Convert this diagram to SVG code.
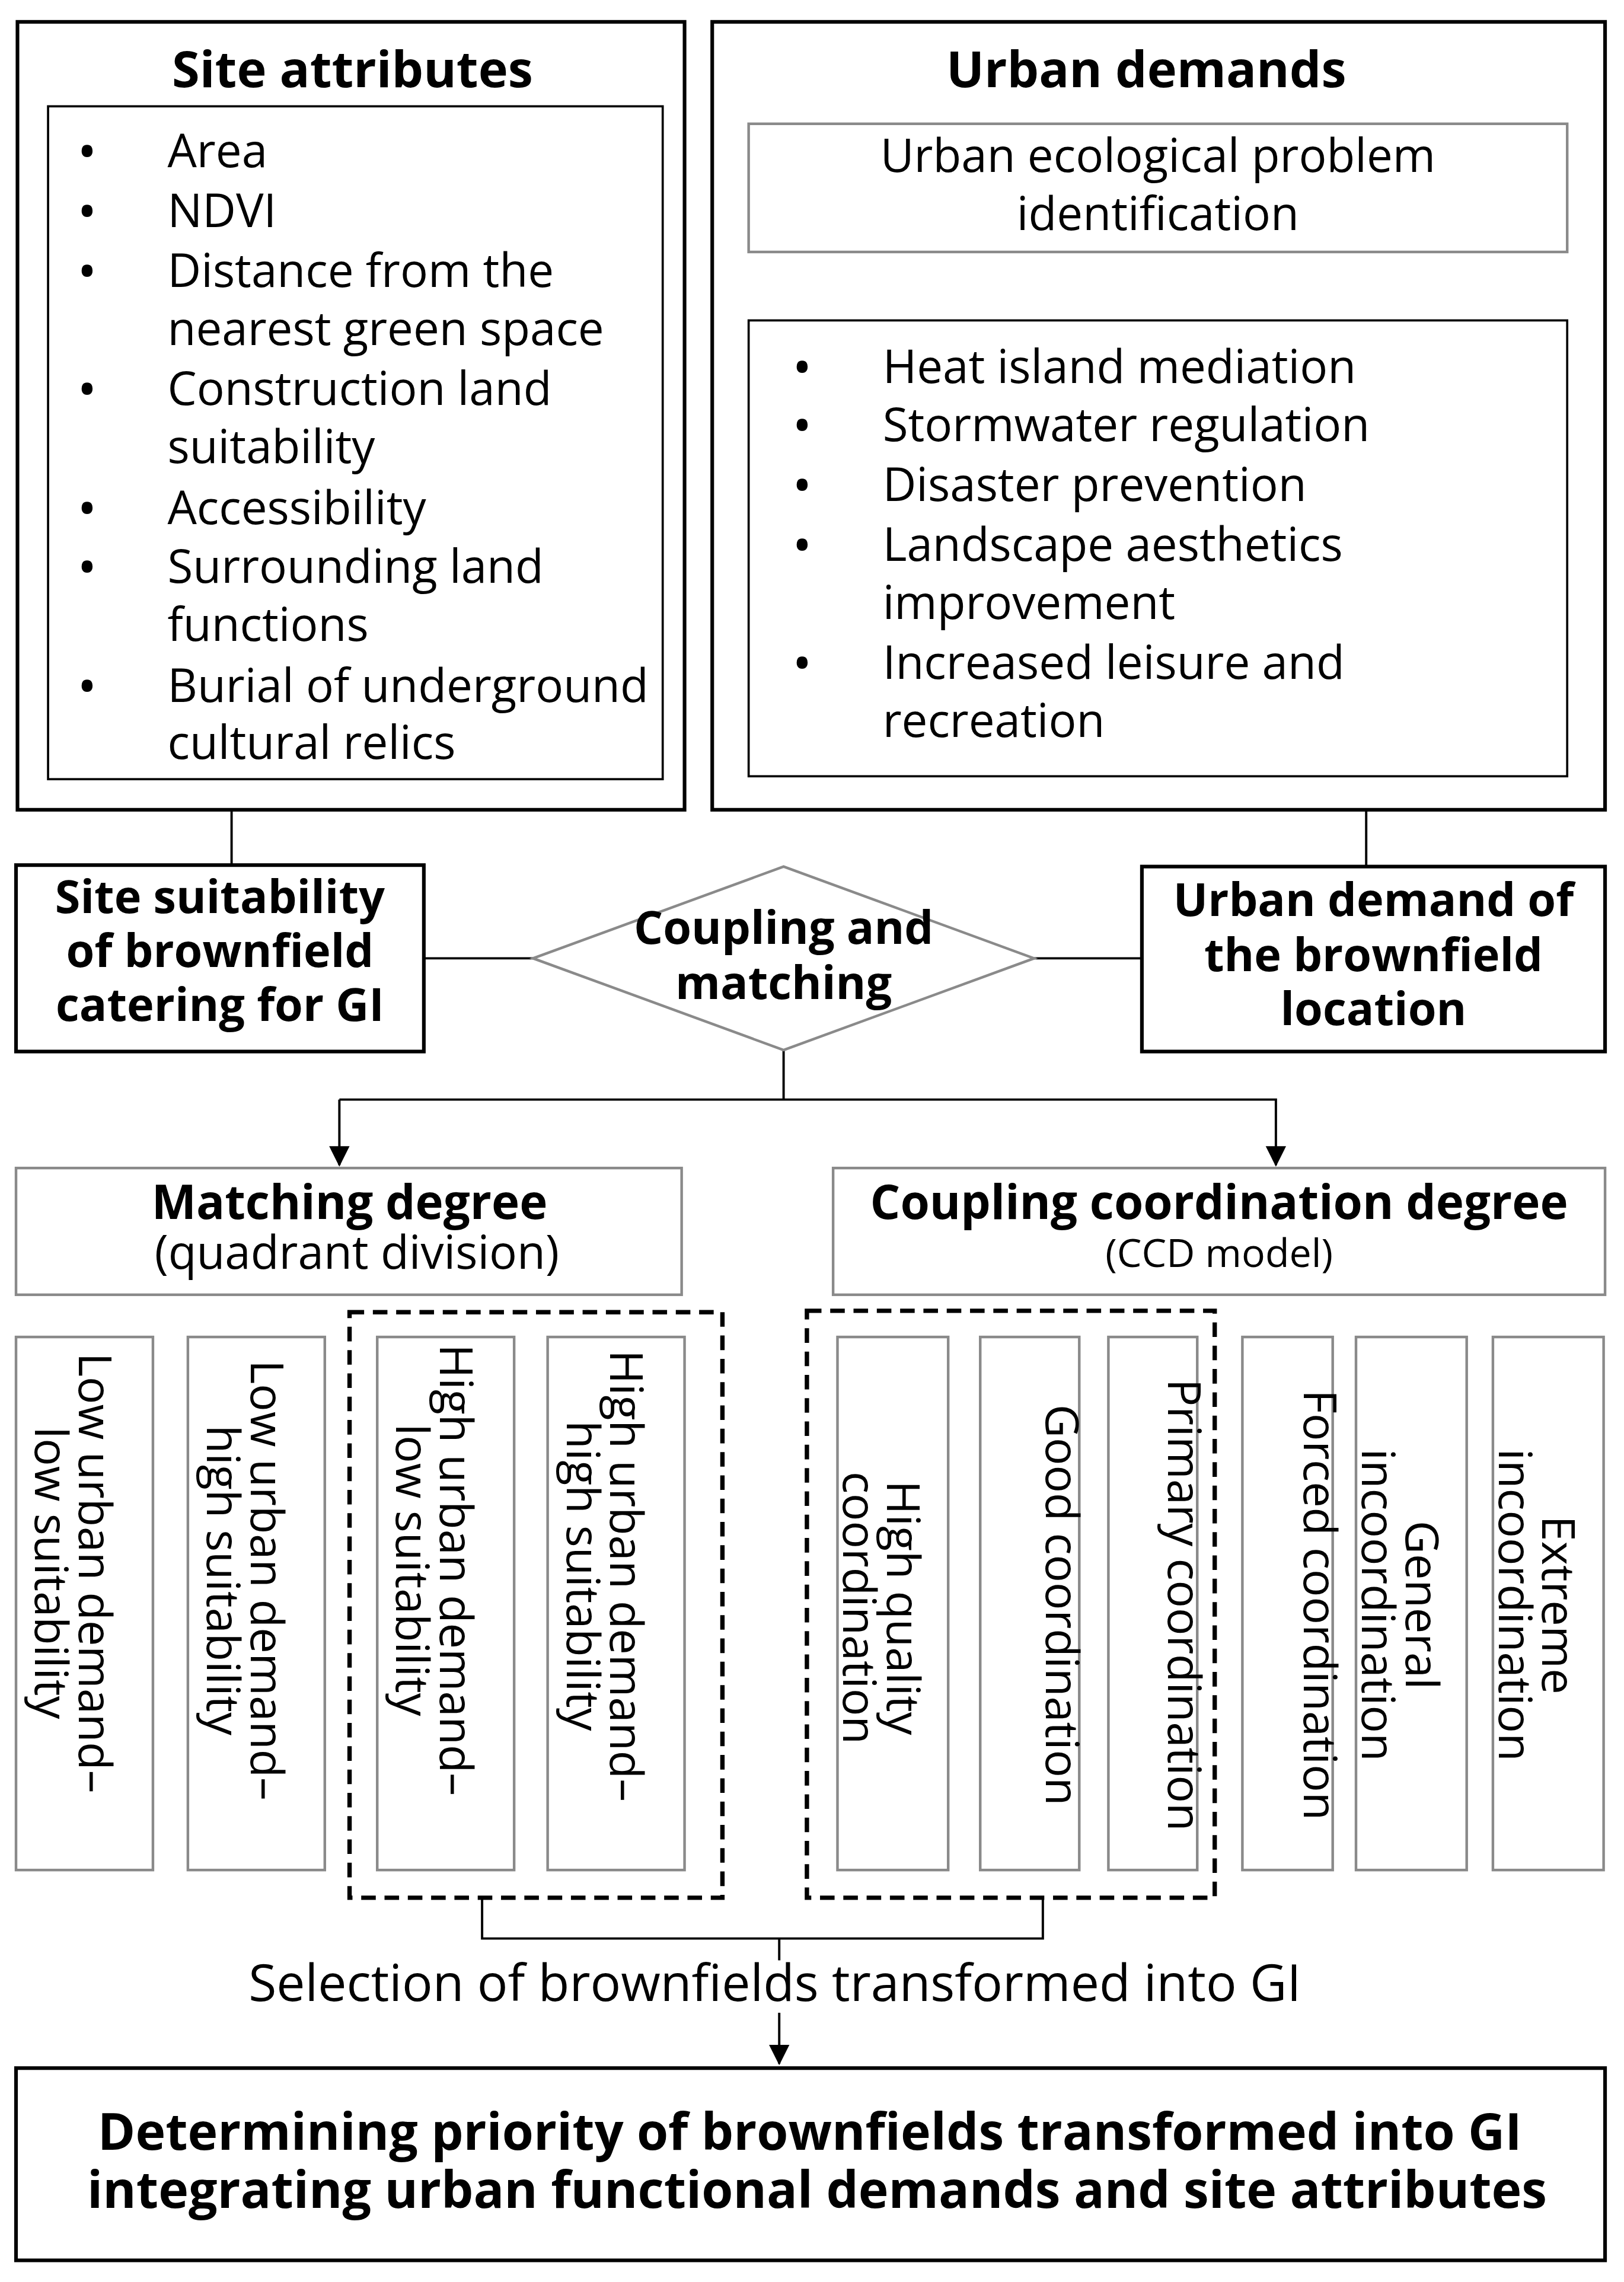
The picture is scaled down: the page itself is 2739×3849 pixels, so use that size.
<svg xmlns="http://www.w3.org/2000/svg" width="2739" height="3849" viewBox="0 0 2739 3849">
<defs>
<style>
text{font-family:"Open Sans","Noto Sans","DejaVu Sans",sans-serif;fill:#000}
.t{font-size:31.8px}
.v{font-size:31.5px}
.bl{font-size:36px}
.b{font-size:31.5px;font-weight:bold}
.m{text-anchor:middle}
.k{fill:#fff;stroke:#000;stroke-width:2.5}
.g{fill:#fff;stroke:#8a8a8a;stroke-width:1.8}
.i{fill:none;stroke:#000;stroke-width:1.5}
.d{fill:none;stroke:#000;stroke-width:3;stroke-dasharray:10 6}
.c{fill:none;stroke:#000;stroke-width:1.6}
</style>
<marker id="a" markerWidth="14" markerHeight="16" refX="13" refY="7" orient="auto" markerUnits="userSpaceOnUse" viewBox="0 0 14 14"><path d="M0,0L14,7L0,14z" fill="#000"/></marker>
</defs>
<rect width="2739" height="3849" fill="#fff"/>
<g transform="scale(2.4565)">
<g id="connectors">
<line class="c" x1="800" y1="173" x2="800" y2="218" marker-end="url(#a)"/>
<line class="c" x1="159" y1="556" x2="159" y2="594"/>
<line class="c" x1="938" y1="556" x2="938" y2="595"/>
<line class="c" x1="291" y1="658" x2="366" y2="658"/>
<line class="c" x1="710" y1="658" x2="784" y2="658"/>
<polyline class="c" points="538,721 538,755"/>
<polyline class="c" points="233,755 876,755 876,800" marker-end="url(#a)"/>
<line class="c" x1="233" y1="755" x2="233" y2="800" marker-end="url(#a)"/>
<polyline class="c" points="331,1303 331,1331 716,1331 716,1303"/>
<line class="c" x1="535" y1="1331" x2="535" y2="1346"/>
<line class="c" x1="535" y1="1382" x2="535" y2="1417" marker-end="url(#a)"/>
</g>
<g id="site">
<rect class="k" x="12" y="15" width="458" height="541"/>
<text class="b m" x="242" y="60" style="font-size:34.5px">Site attributes</text>
<rect class="i" x="33" y="73" width="422" height="462"/>
<g class="bl">
<text x="53" y="117">•</text><text x="53" y="158">•</text><text x="53" y="199">•</text><text x="53" y="280">•</text><text x="53" y="362">•</text><text x="53" y="402">•</text><text x="53" y="484">•</text>
</g>
<g class="t">
<text x="115" y="115">Area</text>
<text x="115" y="156">NDVI</text>
<text x="115" y="197">Distance from the</text>
<text x="115" y="237">nearest green space</text>
<text x="115" y="278">Construction land</text>
<text x="115" y="318">suitability</text>
<text x="115" y="360">Accessibility</text>
<text x="115" y="400">Surrounding land</text>
<text x="115" y="440">functions</text>
<text x="115" y="482">Burial of underground</text>
<text x="115" y="521">cultural relics</text>
</g>
</g>
<g id="urban">
<rect class="k" x="489" y="15" width="613" height="541"/>
<text class="b m" x="787" y="60" style="font-size:34.5px">Urban demands</text>
<rect class="g" x="514" y="85" width="562" height="88"/>
<text class="t m" x="795" y="118">Urban ecological problem</text>
<text class="t m" x="795" y="158">identification</text>
<rect class="i" x="514" y="220" width="562" height="313"/>
<g class="bl">
<text x="544" y="265">•</text><text x="544" y="305">•</text><text x="544" y="346">•</text><text x="544" y="387">•</text><text x="544" y="468">•</text>
</g>
<g class="t">
<text x="606" y="263">Heat island mediation</text>
<text x="606" y="303">Stormwater regulation</text>
<text x="606" y="344">Disaster prevention</text>
<text x="606" y="385">Landscape aesthetics</text>
<text x="606" y="425">improvement</text>
<text x="606" y="466">Increased leisure and</text>
<text x="606" y="506">recreation</text>
</g>
</g>
<g id="suit">
<rect class="k" x="11" y="594" width="280" height="128" stroke-width="1.8"/>
<text class="b m" x="151" y="627">Site suitability</text>
<text class="b m" x="151" y="664">of brownfield</text>
<text class="b m" x="151" y="701">catering for GI</text>
</g>
<g id="coupling">
<polygon class="g" points="366,658 538,595 710,658 538,721"/>
<text class="b m" x="538" y="648">Coupling and</text>
<text class="b m" x="538" y="686">matching</text>
</g>
<g id="udemand">
<rect class="k" x="784" y="595" width="318" height="127" stroke-width="1.8"/>
<text class="b m" x="943" y="629">Urban demand of</text>
<text class="b m" x="943" y="667">the brownfield</text>
<text class="b m" x="943" y="704">location</text>
</g>
<g id="matching">
<rect class="g" x="11" y="802" width="457" height="87"/>
<text class="b m" x="240" y="837" style="font-size:32.5px">Matching degree</text>
<text class="t m" x="245" y="871">(quadrant division)</text>
</g>
<g id="ccd">
<rect class="g" x="572" y="802" width="530" height="87"/>
<text class="b m" x="837" y="837" style="font-size:32.5px">Coupling coordination degree</text>
<text class="m" x="837" y="870" font-size="27">(CCD model)</text>
</g>
<rect class="d" x="240" y="901" width="256" height="402"/>
<rect class="d" x="554" y="900" width="280" height="403"/>
<g id="q1"><rect class="g" x="11" y="918" width="94" height="366"/>
<text class="v m" transform="translate(58,1080) rotate(90)"><tspan x="0" y="4">Low urban demand–</tspan><tspan x="0" y="34">low suitability</tspan></text></g>
<g id="q2"><rect class="g" x="129" y="918" width="94" height="366"/>
<text class="v m" transform="translate(176,1085) rotate(90)"><tspan x="0" y="4">Low urban demand–</tspan><tspan x="0" y="34">high suitability</tspan></text></g>
<g id="q3"><rect class="g" x="259" y="918" width="94" height="366"/>
<text class="v m" transform="translate(306,1078) rotate(90)"><tspan x="0" y="4">High urban demand–</tspan><tspan x="0" y="34">low suitability</tspan></text></g>
<g id="q4"><rect class="g" x="376" y="918" width="94" height="366"/>
<text class="v m" transform="translate(423,1082) rotate(90)"><tspan x="0" y="4">High urban demand–</tspan><tspan x="0" y="34">high suitability</tspan></text></g>
<g id="c1"><rect class="g" x="575" y="918" width="76" height="366"/>
<text class="v m" transform="translate(613,1104) rotate(90)"><tspan x="0" y="4">High quality</tspan><tspan x="0" y="34">coordination</tspan></text></g>
<g id="c2"><rect class="g" x="673" y="918" width="68" height="366"/>
<text class="v m" transform="translate(707,1102) rotate(90)"><tspan x="0" y="-11">Good coordination</tspan></text></g>
<g id="c3"><rect class="g" x="761" y="918" width="61" height="366"/>
<text class="v m" transform="translate(791,1102) rotate(90)"><tspan x="0" y="-11">Primary coordination</tspan></text></g>
<g id="c4"><rect class="g" x="853" y="918" width="62" height="366"/>
<text class="v m" transform="translate(884,1102) rotate(90)"><tspan x="0" y="-11">Forced coordination</tspan></text></g>
<g id="c5"><rect class="g" x="931" y="918" width="76" height="366"/>
<text class="v m" transform="translate(969,1102) rotate(90)"><tspan x="0" y="4">General</tspan><tspan x="0" y="34">incoordination</tspan></text></g>
<g id="c6"><rect class="g" x="1025" y="918" width="76" height="366"/>
<text class="v m" transform="translate(1063,1102) rotate(90)"><tspan x="0" y="4">Extreme</tspan><tspan x="0" y="34">incoordination</tspan></text></g>
<g id="selection"><text class="m" x="532" y="1374" style="font-size:35px">Selection of brownfields transformed into GI</text></g>
<g id="final">
<rect class="k" x="11" y="1420" width="1091" height="132"/>
<text class="b m" x="556" y="1476" style="font-size:35px">Determining priority of brownfields transformed into GI</text>
<text class="b m" x="561" y="1516" style="font-size:35px">integrating urban functional demands and site attributes</text>
</g>
</g>
</svg>
